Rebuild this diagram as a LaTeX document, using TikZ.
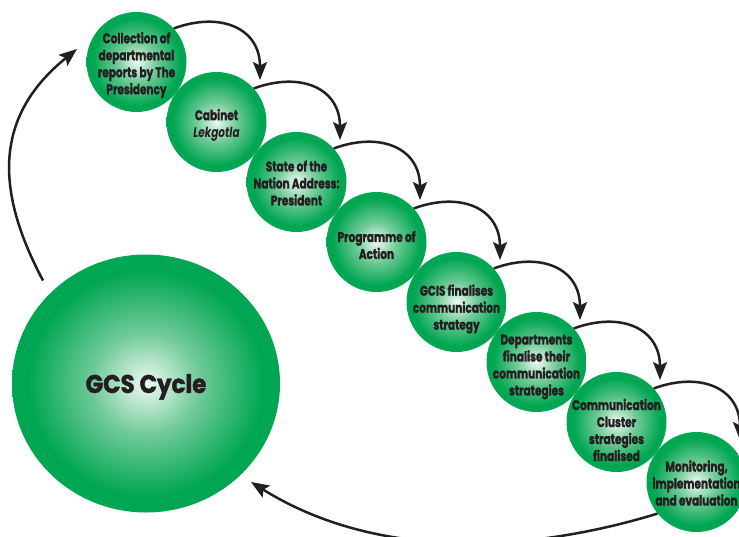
\documentclass[tikz,border=0pt]{standalone}
\usepackage{fontspec}
\usetikzlibrary{arrows.meta,calc,shapes.geometric}
\newfontfamily\lblfont{Poppins}[FakeStretch=0.75, BoldFeatures={FakeBold=1.3}]
\newfontfamily\titlefont{Poppins}[FakeStretch=0.9, BoldFeatures={FakeBold=1.6}]
\definecolor{gedge}{RGB}{0,166,81}
\definecolor{gmid}{RGB}{112,202,152}
\definecolor{gcore}{RGB}{238,249,242}
\definecolor{ink}{RGB}{35,31,32}
% light centre fading to full green at the rim (rim = 25bp)
\pgfdeclareradialshading{greenball}{\pgfpoint{0bp}{0bp}}{color(0bp)=(gcore); color(10bp)=(gmid); color(22bp)=(gedge); color(50bp)=(gedge)}
\begin{document}
\begin{tikzpicture}[x=1pt,y=1pt,
  stepball/.style={circle, minimum size=100pt, inner sep=0pt, shading=greenball},
  steptext/.style={inner sep=0pt, text=ink, align=center,
    font=\lblfont\bfseries\fontsize{14}{17}\selectfont},
  flow/.style={draw=ink, line width=2.5pt, -{Stealth[length=18pt,width=14pt,inset=3.5pt]}}]
\useasboundingbox (0,0) rectangle (739,-536);
\clip (0,0) rectangle (739,-536);

% the big cycle node
\node[ellipse, minimum width=268pt, minimum height=258pt, inner sep=0pt, shading=greenball,
  text=ink, text depth=-4pt, font=\titlefont\bfseries\fontsize{25.5}{30}\selectfont] (gcs) at (146,-383.5) {GCS Cycle};

% the eight steps of the cycle
\node[stepball] (c0) at (136.5,-62)  {};
\node[stepball] (c1) at (216.5,-122) {};
\node[stepball] (c2) at (296.5,-182) {};
\node[stepball] (c3) at (376.5,-242) {};
\node[stepball] (c4) at (456.5,-302) {};
\node[stepball] (c5) at (536.5,-362) {};
\node[stepball] (c6) at (616.5,-422) {};
\node[stepball] (c7) at (696.5,-482) {};

% their labels
\node[steptext] (t0) at ($(c0)+(0,-3)$) {Collection of\\departmental\\reports by The\\Presidency};
\node[steptext] (t1) at ($(c1)+(0,-3)$) {Cabinet\\\itshape Lekgotla};
\node[steptext] (t2) at ($(c2)+(0,-1)$) {State of the\\Nation Address:\\President};
\node[steptext] (t3) at ($(c3)+(0,-3)$) {Programme of\\Action};
\node[steptext] (t4) at ($(c4)+(0,-7)$) {GCIS finalises\\communication\\strategy};
\node[steptext] (t5) at ($(c5)+(0,-5)$) {Departments\\finalise their\\communication\\strategies};
\node[steptext] (t6) at ($(c6)+(0,-8)$) {Communication\\Cluster\\strategies\\finalised};
\node[steptext] (t7) at ($(c7)+(0,-1)$) {Monitoring,\\implementation\\and evaluation};

% step-to-step arrows
\foreach \a/\b in {c0/c1,c1/c2,c2/c3,c3/c4,c4/c5,c5/c6,c6/c7}
  \draw[flow] (\a.42) to[out=20,in=90,looseness=1.3] ($(\b.center)+(43.5,42)$);

% closing the loop
\draw[flow] (c7.219) to[out=197,in=328,looseness=0.9] ($(gcs.center)+(105,-98.5)$);
\draw[flow] ($(gcs.center)+(-103,103)$) to[out=118,in=219,looseness=1.15] ($(c0.center)+(-59.5,13)$);
\end{tikzpicture}
\end{document}
